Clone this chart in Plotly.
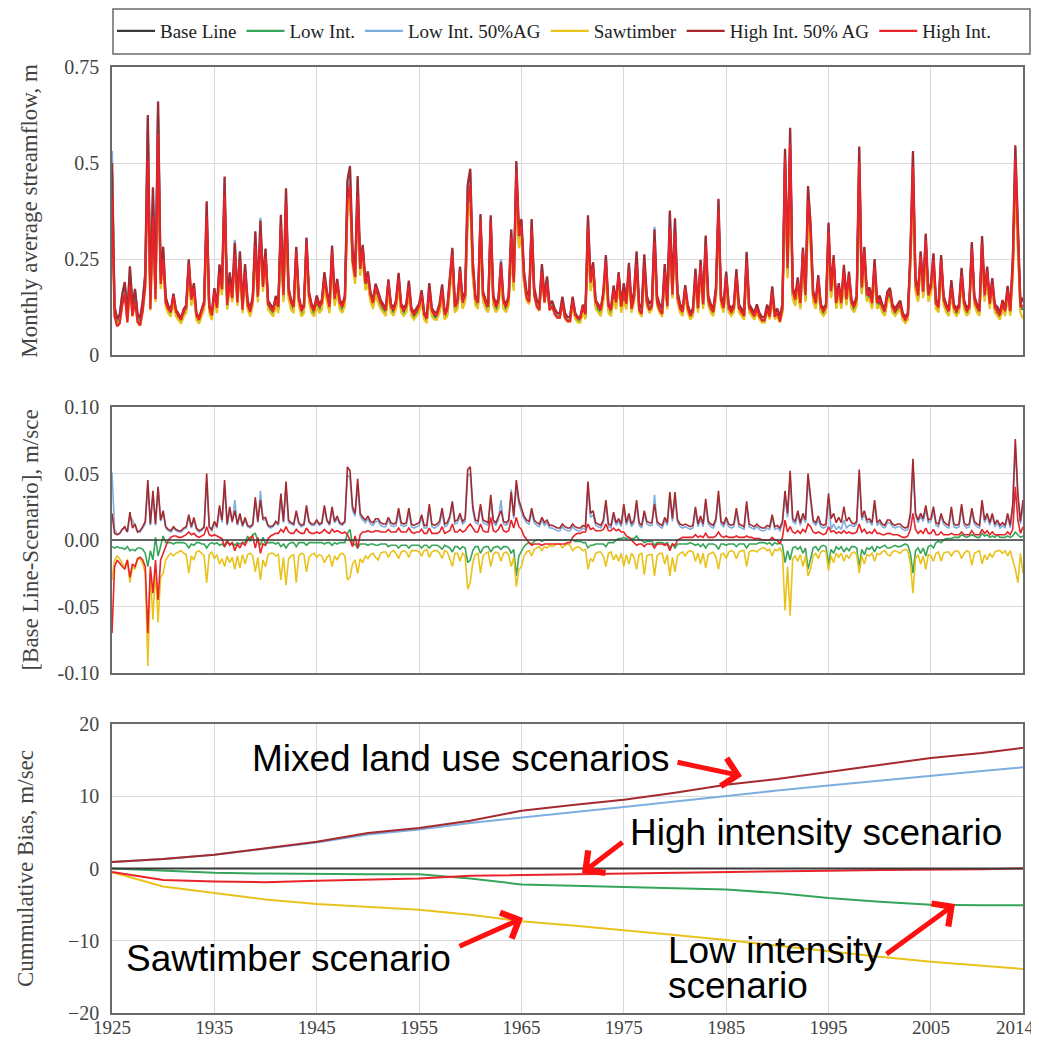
import plotly.graph_objects as go
from plotly.subplots import make_subplots

# ---------------- DATA (quarterly samples, 1925.00 ... 2014.00) ----------------
start_year = 1925
step = 0.25

# Monthly average streamflow, Base Line (m)
base_flow = [
    0.48, 0.12, 0.09, 0.10, 0.15, 0.18, 0.10, 0.21,
    0.12, 0.16, 0.10, 0.09, 0.13, 0.20, 0.58, 0.14,
    0.40, 0.16, 0.62, 0.20, 0.26, 0.14, 0.12, 0.11,
    0.15, 0.11, 0.10, 0.09, 0.11, 0.12, 0.23, 0.14,
    0.17, 0.10, 0.09, 0.11, 0.13, 0.35, 0.12, 0.10,
    0.16, 0.12, 0.21, 0.17, 0.42, 0.13, 0.19, 0.15,
    0.27, 0.14, 0.25, 0.12, 0.22, 0.13, 0.11, 0.14,
    0.29, 0.15, 0.32, 0.18, 0.26, 0.13, 0.12, 0.11,
    0.14, 0.12, 0.33, 0.15, 0.39, 0.16, 0.13, 0.12,
    0.26, 0.14, 0.11, 0.12, 0.28, 0.15, 0.12, 0.11,
    0.14, 0.12, 0.13, 0.19, 0.15, 0.12, 0.26, 0.14,
    0.18, 0.13, 0.12, 0.14, 0.40, 0.44, 0.25, 0.20,
    0.42, 0.22, 0.27, 0.18, 0.20, 0.15, 0.13, 0.17,
    0.15, 0.13, 0.12, 0.11, 0.18, 0.12, 0.11, 0.13,
    0.19, 0.12, 0.11, 0.12, 0.17, 0.11, 0.10, 0.11,
    0.12, 0.15, 0.10, 0.09, 0.16, 0.11, 0.10, 0.10,
    0.12, 0.16, 0.10, 0.11, 0.18, 0.25, 0.12, 0.13,
    0.21, 0.13, 0.15, 0.39, 0.43, 0.22, 0.14, 0.13,
    0.34, 0.15, 0.13, 0.12, 0.33, 0.14, 0.12, 0.13,
    0.22, 0.13, 0.12, 0.14, 0.29, 0.18, 0.46, 0.30,
    0.33, 0.20, 0.15, 0.14, 0.33, 0.16, 0.13, 0.12,
    0.22, 0.14, 0.19, 0.12, 0.13, 0.11, 0.10, 0.10,
    0.14, 0.10, 0.09, 0.09, 0.14, 0.10, 0.09, 0.09,
    0.12, 0.10, 0.32, 0.18, 0.22, 0.13, 0.12, 0.11,
    0.15, 0.23, 0.12, 0.11, 0.16, 0.13, 0.20, 0.12,
    0.16, 0.13, 0.22, 0.12, 0.15, 0.24, 0.12, 0.11,
    0.24, 0.14, 0.12, 0.13, 0.30, 0.14, 0.12, 0.11,
    0.22, 0.13, 0.34, 0.16, 0.32, 0.15, 0.12, 0.11,
    0.17, 0.12, 0.10, 0.11, 0.20, 0.12, 0.23, 0.13,
    0.28, 0.14, 0.12, 0.11, 0.16, 0.37, 0.14, 0.12,
    0.20, 0.12, 0.11, 0.12, 0.20, 0.12, 0.11, 0.10,
    0.24, 0.12, 0.11, 0.10, 0.12, 0.10, 0.09, 0.09,
    0.12, 0.10, 0.16, 0.10, 0.11, 0.09, 0.12, 0.50,
    0.22, 0.54, 0.16, 0.14, 0.18, 0.13, 0.26, 0.15,
    0.39, 0.31, 0.15, 0.13, 0.19, 0.12, 0.11, 0.12,
    0.31, 0.16, 0.24, 0.13, 0.17, 0.13, 0.21, 0.14,
    0.20, 0.13, 0.12, 0.14, 0.49, 0.17, 0.26, 0.15,
    0.16, 0.13, 0.22, 0.13, 0.14, 0.12, 0.11, 0.15,
    0.16, 0.12, 0.11, 0.12, 0.13, 0.10, 0.09, 0.10,
    0.25, 0.47, 0.18, 0.15, 0.25, 0.16, 0.29, 0.15,
    0.17, 0.24, 0.13, 0.12, 0.24, 0.14, 0.12, 0.11,
    0.17, 0.12, 0.11, 0.12, 0.20, 0.13, 0.11, 0.12,
    0.27, 0.14, 0.12, 0.11, 0.28, 0.15, 0.21, 0.13,
    0.18, 0.12, 0.11, 0.10, 0.13, 0.11, 0.16, 0.11,
    0.22, 0.47, 0.30, 0.12, 0.12,
]

# Differences between scenario and Base Line (panel 2)
diff_low_int = [
    -0.005, -0.006, -0.005, -0.006, -0.006, -0.007, -0.005, -0.008,
    -0.007, -0.008, -0.006, -0.006, -0.007, -0.010, -0.020, -0.008,
    -0.015, 0.002, -0.012, -0.004, 0.003, -0.002, -0.002, -0.002,
    -0.003, -0.002, -0.002, -0.002, -0.002, -0.003, -0.006, -0.003,
    -0.004, -0.002, -0.002, -0.003, -0.003, -0.006, -0.003, -0.002,
    -0.003, -0.002, -0.004, -0.003, -0.005, -0.002, -0.003, -0.002,
    -0.004, -0.002, -0.003, -0.002, -0.002, 0.003, -0.001, 0.004,
    0.005, -0.001, -0.004, 0.002, -0.003, -0.002, -0.002, -0.002,
    -0.003, -0.002, -0.005, -0.003, -0.006, -0.003, -0.002, -0.002,
    -0.005, -0.002, -0.002, -0.002, -0.004, -0.002, -0.002, -0.002,
    -0.002, -0.002, -0.002, -0.003, -0.002, -0.002, -0.004, -0.002,
    -0.003, -0.002, -0.002, -0.002, 0.005, 0.008, -0.004, -0.003,
    -0.006, -0.003, -0.003, -0.003, -0.004, -0.003, -0.003, -0.004,
    -0.004, -0.003, -0.003, -0.003, -0.005, -0.004, -0.004, -0.004,
    -0.006, -0.004, -0.004, -0.004, -0.006, -0.004, -0.004, -0.004,
    -0.004, -0.006, -0.004, -0.004, -0.006, -0.004, -0.004, -0.004,
    -0.005, -0.007, -0.004, -0.005, -0.006, -0.009, -0.005, -0.005,
    -0.007, -0.005, -0.006, -0.017, -0.015, -0.008, -0.005, -0.005,
    -0.010, -0.006, -0.005, -0.005, -0.009, -0.006, -0.005, -0.005,
    -0.007, -0.005, -0.005, -0.006, -0.010, -0.007, -0.027, -0.012,
    -0.008, -0.005, -0.003, -0.002, -0.003, -0.001, 0.000, 0.000,
    -0.001, 0.000, 0.000, 0.000, 0.000, 0.000, 0.000, 0.000,
    0.000, 0.000, 0.000, 0.000, 0.000, -0.001, -0.001, -0.001,
    -0.002, -0.002, -0.006, -0.004, -0.004, -0.003, -0.003, -0.003,
    -0.003, -0.005, -0.002, -0.002, -0.002, 0.000, 0.001, 0.001,
    0.002, 0.001, 0.002, 0.001, 0.001, 0.003, 0.000, 0.000,
    -0.002, -0.001, -0.001, -0.001, -0.004, -0.002, -0.002, -0.002,
    -0.003, -0.002, -0.006, -0.003, -0.006, -0.003, -0.003, -0.003,
    -0.003, -0.003, -0.002, -0.003, -0.004, -0.003, -0.005, -0.003,
    -0.006, -0.003, -0.003, -0.003, -0.004, -0.007, -0.003, -0.003,
    -0.004, -0.003, -0.003, -0.003, -0.005, -0.003, -0.003, -0.003,
    -0.006, -0.003, -0.003, -0.003, -0.003, -0.002, -0.002, -0.002,
    -0.003, -0.002, -0.004, -0.002, -0.003, -0.002, -0.004, -0.017,
    -0.008, -0.015, -0.006, -0.005, -0.007, -0.005, -0.010, -0.006,
    -0.022, -0.014, -0.006, -0.005, -0.008, -0.005, -0.004, -0.005,
    -0.018, -0.007, -0.010, -0.005, -0.007, -0.005, -0.009, -0.006,
    -0.008, -0.005, -0.005, -0.006, -0.020, -0.007, -0.011, -0.006,
    -0.007, -0.005, -0.009, -0.005, -0.006, -0.005, -0.004, -0.006,
    -0.006, -0.005, -0.004, -0.005, -0.005, -0.004, -0.003, -0.004,
    -0.010, -0.025, -0.008, -0.006, -0.010, -0.006, -0.012, -0.005,
    -0.004, -0.006, -0.002, -0.001, -0.002, 0.000, 0.001, 0.001,
    0.001, 0.002, 0.002, 0.002, 0.004, 0.003, 0.002, 0.003,
    0.004, 0.003, 0.002, 0.002, 0.005, 0.003, 0.004, 0.002,
    0.003, 0.002, 0.004, 0.002, 0.002, 0.002, 0.003, 0.002,
    0.003, 0.006, 0.004, 0.002, 0.003,
]

diff_low_int_50ag = [
    0.051, 0.008, 0.004, 0.005, 0.008, 0.009, 0.006, 0.018,
    0.015, 0.010, 0.006, 0.006, 0.009, 0.012, 0.040, 0.011,
    0.034, 0.011, 0.040, 0.014, 0.020, 0.009, 0.007, 0.006,
    0.009, 0.007, 0.006, 0.006, 0.008, 0.009, 0.017, 0.009,
    0.015, 0.008, 0.006, 0.007, 0.009, 0.044, 0.009, 0.007,
    0.013, 0.009, 0.023, 0.013, 0.040, 0.011, 0.022, 0.013,
    0.030, 0.011, 0.018, 0.010, 0.015, 0.010, 0.009, 0.011,
    0.029, 0.013, 0.037, 0.015, 0.015, 0.010, 0.009, 0.010,
    0.013, 0.011, 0.031, 0.013, 0.039, 0.013, 0.012, 0.011,
    0.020, 0.012, 0.010, 0.011, 0.023, 0.013, 0.011, 0.011,
    0.014, 0.011, 0.012, 0.023, 0.014, 0.011, 0.022, 0.013,
    0.016, 0.012, 0.011, 0.013, 0.049, 0.047, 0.022, 0.018,
    0.041, 0.018, 0.015, 0.013, 0.016, 0.012, 0.011, 0.014,
    0.014, 0.011, 0.010, 0.010, 0.015, 0.011, 0.010, 0.011,
    0.021, 0.011, 0.010, 0.011, 0.021, 0.010, 0.009, 0.010,
    0.011, 0.017, 0.009, 0.009, 0.024, 0.010, 0.009, 0.010,
    0.012, 0.021, 0.010, 0.011, 0.016, 0.026, 0.012, 0.013,
    0.018, 0.012, 0.014, 0.048, 0.050, 0.022, 0.013, 0.012,
    0.024, 0.013, 0.012, 0.011, 0.030, 0.013, 0.011, 0.015,
    0.030, 0.012, 0.011, 0.013, 0.038, 0.016, 0.040, 0.027,
    0.021, 0.016, 0.013, 0.012, 0.021, 0.013, 0.011, 0.010,
    0.015, 0.011, 0.013, 0.009, 0.009, 0.008, 0.007, 0.007,
    0.010, 0.008, 0.007, 0.007, 0.010, 0.008, 0.007, 0.007,
    0.009, 0.008, 0.039, 0.017, 0.019, 0.011, 0.010, 0.009,
    0.013, 0.027, 0.010, 0.009, 0.018, 0.011, 0.014, 0.010,
    0.024, 0.011, 0.017, 0.010, 0.013, 0.026, 0.011, 0.009,
    0.020, 0.012, 0.011, 0.011, 0.034, 0.012, 0.010, 0.009,
    0.015, 0.011, 0.033, 0.014, 0.032, 0.013, 0.010, 0.009,
    0.010, 0.009, 0.008, 0.009, 0.022, 0.010, 0.016, 0.010,
    0.027, 0.012, 0.010, 0.009, 0.014, 0.033, 0.012, 0.010,
    0.015, 0.010, 0.009, 0.010, 0.021, 0.010, 0.009, 0.008,
    0.026, 0.010, 0.009, 0.008, 0.010, 0.008, 0.007, 0.007,
    0.009, 0.008, 0.017, 0.008, 0.009, 0.007, 0.012, 0.033,
    0.017, 0.047, 0.014, 0.012, 0.019, 0.011, 0.018, 0.013,
    0.045, 0.029, 0.013, 0.011, 0.015, 0.010, 0.009, 0.010,
    0.031, 0.008, 0.012, 0.008, 0.010, 0.008, 0.015, 0.009,
    0.011, 0.011, 0.010, 0.012, 0.048, 0.015, 0.019, 0.013,
    0.014, 0.011, 0.027, 0.011, 0.013, 0.010, 0.009, 0.013,
    0.013, 0.010, 0.009, 0.010, 0.010, 0.008, 0.007, 0.008,
    0.018, 0.055, 0.018, 0.013, 0.018, 0.014, 0.023, 0.013,
    0.014, 0.022, 0.011, 0.010, 0.018, 0.012, 0.010, 0.009,
    0.022, 0.010, 0.009, 0.010, 0.024, 0.011, 0.009, 0.010,
    0.021, 0.012, 0.010, 0.009, 0.027, 0.013, 0.018, 0.011,
    0.018, 0.010, 0.013, 0.009, 0.011, 0.009, 0.018, 0.009,
    0.024, 0.070, 0.031, 0.012, 0.026,
]

diff_sawtimber = [
    -0.030, -0.015, -0.012, -0.014, -0.018, -0.020, -0.015, -0.032,
    -0.020, -0.022, -0.015, -0.014, -0.018, -0.025, -0.095, -0.025,
    -0.060, -0.022, -0.062, -0.028, -0.025, -0.015, -0.012, -0.010,
    -0.012, -0.010, -0.009, -0.008, -0.010, -0.011, -0.025, -0.012,
    -0.015, -0.009, -0.008, -0.010, -0.012, -0.032, -0.011, -0.009,
    -0.014, -0.011, -0.018, -0.014, -0.020, -0.012, -0.017, -0.013,
    -0.022, -0.012, -0.021, -0.011, -0.018, -0.011, -0.010, -0.012,
    -0.024, -0.013, -0.030, -0.015, -0.020, -0.011, -0.010, -0.010,
    -0.012, -0.011, -0.030, -0.013, -0.034, -0.014, -0.012, -0.011,
    -0.032, -0.012, -0.010, -0.011, -0.024, -0.013, -0.011, -0.010,
    -0.013, -0.011, -0.012, -0.017, -0.013, -0.011, -0.020, -0.012,
    -0.015, -0.011, -0.010, -0.012, -0.030, -0.028, -0.018, -0.015,
    -0.025, -0.014, -0.017, -0.012, -0.014, -0.011, -0.010, -0.013,
    -0.015, -0.010, -0.009, -0.009, -0.013, -0.009, -0.008, -0.010,
    -0.014, -0.009, -0.008, -0.009, -0.013, -0.008, -0.008, -0.008,
    -0.009, -0.012, -0.008, -0.007, -0.013, -0.009, -0.008, -0.008,
    -0.010, -0.014, -0.008, -0.009, -0.014, -0.020, -0.010, -0.010,
    -0.016, -0.010, -0.012, -0.037, -0.032, -0.017, -0.011, -0.010,
    -0.025, -0.012, -0.010, -0.009, -0.020, -0.011, -0.009, -0.010,
    -0.016, -0.010, -0.009, -0.011, -0.020, -0.013, -0.035, -0.022,
    -0.020, -0.012, -0.009, -0.008, -0.012, -0.007, -0.006, -0.005,
    -0.008, -0.005, -0.006, -0.004, -0.005, -0.004, -0.003, -0.003,
    -0.006, -0.004, -0.003, -0.004, -0.008, -0.006, -0.005, -0.006,
    -0.008, -0.007, -0.022, -0.014, -0.016, -0.010, -0.009, -0.009,
    -0.012, -0.020, -0.010, -0.009, -0.015, -0.011, -0.016, -0.010,
    -0.020, -0.011, -0.018, -0.010, -0.013, -0.022, -0.011, -0.010,
    -0.026, -0.012, -0.011, -0.011, -0.027, -0.012, -0.010, -0.010,
    -0.018, -0.011, -0.027, -0.013, -0.024, -0.012, -0.010, -0.009,
    -0.012, -0.009, -0.008, -0.009, -0.016, -0.010, -0.018, -0.010,
    -0.021, -0.011, -0.010, -0.009, -0.013, -0.022, -0.011, -0.010,
    -0.014, -0.009, -0.008, -0.009, -0.014, -0.009, -0.008, -0.008,
    -0.020, -0.009, -0.008, -0.008, -0.009, -0.007, -0.006, -0.006,
    -0.008, -0.007, -0.012, -0.007, -0.008, -0.006, -0.010, -0.053,
    -0.020, -0.057, -0.014, -0.012, -0.016, -0.011, -0.020, -0.012,
    -0.027, -0.022, -0.012, -0.010, -0.014, -0.009, -0.008, -0.009,
    -0.023, -0.012, -0.017, -0.010, -0.013, -0.010, -0.016, -0.011,
    -0.014, -0.010, -0.009, -0.011, -0.025, -0.012, -0.018, -0.011,
    -0.012, -0.010, -0.016, -0.010, -0.011, -0.009, -0.008, -0.011,
    -0.012, -0.009, -0.008, -0.009, -0.010, -0.008, -0.007, -0.008,
    -0.018, -0.040, -0.014, -0.011, -0.018, -0.012, -0.022, -0.011,
    -0.012, -0.016, -0.010, -0.009, -0.016, -0.010, -0.009, -0.009,
    -0.012, -0.009, -0.008, -0.009, -0.014, -0.010, -0.008, -0.009,
    -0.019, -0.010, -0.009, -0.008, -0.018, -0.011, -0.015, -0.010,
    -0.013, -0.009, -0.008, -0.008, -0.010, -0.008, -0.012, -0.008,
    -0.015, -0.022, -0.032, -0.010, -0.025,
]

diff_high_int_50ag = [
    0.020, 0.005, 0.004, 0.005, 0.008, 0.010, 0.006, 0.021,
    0.009, 0.012, 0.006, 0.007, 0.010, 0.014, 0.045, 0.012,
    0.037, 0.012, 0.040, 0.015, 0.022, 0.010, 0.008, 0.007,
    0.010, 0.008, 0.007, 0.007, 0.009, 0.010, 0.019, 0.010,
    0.017, 0.009, 0.007, 0.008, 0.010, 0.050, 0.010, 0.008,
    0.014, 0.010, 0.026, 0.015, 0.045, 0.012, 0.025, 0.014,
    0.022, 0.012, 0.020, 0.011, 0.017, 0.011, 0.010, 0.012,
    0.032, 0.014, 0.030, 0.016, 0.017, 0.011, 0.010, 0.011,
    0.014, 0.012, 0.035, 0.014, 0.044, 0.015, 0.013, 0.012,
    0.022, 0.013, 0.011, 0.012, 0.026, 0.014, 0.012, 0.012,
    0.015, 0.012, 0.013, 0.026, 0.015, 0.012, 0.025, 0.014,
    0.018, 0.013, 0.012, 0.014, 0.055, 0.052, 0.025, 0.020,
    0.046, 0.020, 0.017, 0.015, 0.018, 0.014, 0.013, 0.016,
    0.016, 0.013, 0.012, 0.012, 0.017, 0.013, 0.012, 0.013,
    0.024, 0.013, 0.012, 0.013, 0.024, 0.012, 0.011, 0.012,
    0.013, 0.019, 0.011, 0.011, 0.027, 0.012, 0.011, 0.012,
    0.014, 0.024, 0.012, 0.013, 0.018, 0.029, 0.014, 0.015,
    0.020, 0.014, 0.016, 0.053, 0.055, 0.025, 0.015, 0.014,
    0.027, 0.015, 0.014, 0.013, 0.034, 0.015, 0.013, 0.017,
    0.022, 0.014, 0.013, 0.015, 0.036, 0.018, 0.045, 0.030,
    0.024, 0.018, 0.015, 0.014, 0.024, 0.015, 0.013, 0.012,
    0.017, 0.013, 0.015, 0.011, 0.011, 0.010, 0.009, 0.009,
    0.012, 0.010, 0.009, 0.009, 0.012, 0.010, 0.009, 0.009,
    0.011, 0.010, 0.044, 0.020, 0.022, 0.013, 0.012, 0.011,
    0.015, 0.030, 0.012, 0.011, 0.021, 0.013, 0.016, 0.012,
    0.027, 0.013, 0.020, 0.012, 0.015, 0.030, 0.013, 0.011,
    0.022, 0.014, 0.013, 0.013, 0.027, 0.014, 0.012, 0.011,
    0.017, 0.013, 0.036, 0.016, 0.036, 0.015, 0.012, 0.011,
    0.012, 0.011, 0.010, 0.011, 0.025, 0.012, 0.018, 0.012,
    0.031, 0.014, 0.012, 0.011, 0.016, 0.037, 0.014, 0.012,
    0.017, 0.012, 0.011, 0.012, 0.024, 0.012, 0.011, 0.010,
    0.029, 0.012, 0.011, 0.010, 0.012, 0.010, 0.009, 0.009,
    0.011, 0.010, 0.019, 0.010, 0.011, 0.009, 0.014, 0.037,
    0.020, 0.052, 0.016, 0.014, 0.022, 0.013, 0.020, 0.015,
    0.050, 0.032, 0.015, 0.013, 0.018, 0.012, 0.011, 0.012,
    0.035, 0.016, 0.020, 0.013, 0.017, 0.013, 0.025, 0.014,
    0.017, 0.013, 0.012, 0.014, 0.053, 0.017, 0.022, 0.015,
    0.016, 0.013, 0.030, 0.013, 0.015, 0.012, 0.011, 0.015,
    0.015, 0.012, 0.011, 0.012, 0.012, 0.010, 0.009, 0.010,
    0.020, 0.061, 0.020, 0.015, 0.020, 0.016, 0.026, 0.015,
    0.016, 0.025, 0.013, 0.012, 0.020, 0.014, 0.012, 0.011,
    0.025, 0.012, 0.011, 0.012, 0.027, 0.013, 0.011, 0.012,
    0.024, 0.014, 0.012, 0.011, 0.030, 0.015, 0.020, 0.013,
    0.020, 0.012, 0.015, 0.011, 0.013, 0.011, 0.020, 0.011,
    0.027, 0.076, 0.035, 0.014, 0.030,
]

diff_high_int = [
    -0.070, -0.020, -0.015, -0.018, -0.020, -0.022, -0.015, -0.028,
    -0.018, -0.020, -0.014, -0.013, -0.015, -0.020, -0.070, -0.020,
    -0.040, -0.015, -0.045, -0.015, -0.010, -0.004, 0.000, 0.002,
    0.003, 0.003, 0.002, 0.002, 0.003, 0.004, 0.006, 0.004,
    0.005, 0.003, 0.002, 0.003, 0.004, 0.010, 0.004, 0.003,
    0.004, 0.003, 0.002, 0.001, -0.005, 0.000, -0.004, -0.002,
    -0.008, -0.003, -0.006, -0.002, -0.004, 0.000, 0.002, 0.003,
    -0.006, 0.002, -0.010, -0.003, -0.004, 0.001, 0.003, 0.004,
    0.005, 0.005, 0.008, 0.006, 0.010, 0.006, 0.005, 0.005,
    0.008, 0.006, 0.005, 0.005, 0.009, 0.006, 0.005, 0.005,
    0.006, 0.005, 0.006, 0.008, 0.006, 0.005, 0.008, 0.006,
    0.007, 0.006, 0.005, 0.006, 0.004, 0.000, -0.005, 0.003,
    -0.006, 0.004, 0.006, 0.006, 0.007, 0.006, 0.006, 0.007,
    0.007, 0.006, 0.006, 0.006, 0.008, 0.006, 0.006, 0.006,
    0.009, 0.006, 0.006, 0.006, 0.009, 0.006, 0.005, 0.006,
    0.006, 0.008, 0.005, 0.005, 0.009, 0.005, 0.005, 0.005,
    0.006, 0.010, 0.005, 0.006, 0.007, 0.012, 0.006, 0.006,
    0.008, 0.006, 0.007, 0.010, 0.012, 0.009, 0.006, 0.006,
    0.012, 0.007, 0.006, 0.006, 0.017, 0.007, 0.006, 0.008,
    0.012, 0.007, 0.006, 0.007, 0.015, 0.009, 0.017, 0.010,
    0.008, 0.003, 0.000, -0.002, -0.004, -0.003, -0.003, -0.003,
    -0.004, -0.003, -0.003, -0.003, -0.003, -0.003, -0.003, -0.003,
    -0.003, -0.003, -0.002, -0.002, 0.002, 0.004, 0.005, 0.005,
    0.006, 0.006, 0.012, 0.008, 0.009, 0.007, 0.007, 0.007,
    0.008, 0.012, 0.007, 0.007, 0.009, 0.007, 0.008, 0.006,
    0.006, 0.003, 0.002, 0.000, -0.002, -0.004, -0.003, -0.003,
    -0.005, -0.003, -0.003, -0.003, -0.006, -0.003, -0.003, -0.003,
    -0.004, -0.003, -0.008, -0.003, -0.004, 0.000, 0.001, 0.002,
    0.002, 0.002, 0.002, 0.002, 0.004, 0.002, 0.003, 0.002,
    0.005, 0.002, 0.002, 0.002, 0.003, 0.006, 0.003, 0.002,
    0.003, 0.002, 0.002, 0.002, 0.003, 0.002, 0.002, 0.002,
    0.003, 0.002, 0.002, 0.001, 0.001, 0.001, 0.000, 0.000,
    0.000, 0.000, 0.002, 0.000, 0.000, -0.003, 0.002, 0.015,
    0.006, 0.010, 0.006, 0.005, 0.007, 0.005, 0.008, 0.006,
    0.012, 0.010, 0.006, 0.005, 0.006, 0.005, 0.004, 0.005,
    0.010, 0.006, 0.007, 0.005, 0.006, 0.005, 0.007, 0.005,
    0.006, 0.005, 0.005, 0.006, 0.012, 0.006, 0.008, 0.005,
    0.006, 0.005, 0.008, 0.005, 0.005, 0.004, 0.004, 0.005,
    0.005, 0.004, 0.004, 0.004, 0.003, 0.002, 0.002, 0.003,
    0.008, 0.020, 0.008, 0.005, 0.007, 0.005, 0.009, 0.005,
    0.005, 0.008, 0.004, 0.004, 0.006, 0.004, 0.004, 0.004,
    0.005, 0.004, 0.004, 0.004, 0.006, 0.004, 0.004, 0.004,
    0.007, 0.004, 0.004, 0.004, 0.008, 0.005, 0.007, 0.004,
    0.006, 0.004, 0.004, 0.004, 0.004, 0.004, 0.006, 0.004,
    0.008, 0.040, 0.015, 0.005, 0.010,
]

# Cumulative bias (panel 3), read every 5 years
cum_years = [1925, 1930, 1935, 1940, 1945, 1950, 1955, 1960, 1965, 1970,
             1975, 1980, 1985, 1990, 1995, 2000, 2005, 2010, 2014]
cum_base = [0.0] * len(cum_years)
cum_low_int = [0.0, -0.3, -0.6, -0.7, -0.8, -0.8, -0.8, -1.4, -2.2, -2.4,
               -2.5, -2.7, -2.9, -3.4, -4.1, -4.6, -5.0, -5.1, -5.1]
cum_low_int_50ag = [0.9, 1.3, 1.9, 2.7, 3.6, 4.7, 5.4, 6.3, 7.1, 7.8,
                    8.5, 9.3, 10.1, 10.8, 11.5, 12.2, 12.9, 13.5, 14.0]
cum_sawtimber = [-0.5, -2.5, -3.4, -4.3, -4.9, -5.3, -5.7, -6.4, -7.3, -7.9,
                 -8.5, -9.2, -9.9, -10.7, -11.5, -12.2, -12.9, -13.5, -13.9]
cum_high_int_50ag = [0.9, 1.3, 1.9, 2.8, 3.7, 4.9, 5.6, 6.6, 8.0, 8.8,
                     9.5, 10.5, 11.6, 12.4, 13.4, 14.4, 15.3, 16.0, 16.7]
cum_high_int = [-0.5, -1.6, -1.8, -1.9, -1.7, -1.6, -1.4, -1.0, -0.9, -0.8,
                -0.6, -0.5, -0.5, -0.4, -0.3, -0.2, -0.2, -0.1, 0.0]

x_tick_vals = [1925, 1935, 1945, 1955, 1965, 1975, 1985, 1995, 2005, 2014]
x_tick_text = ["1925", "1935", "1945", "1955", "1965", "1975", "1985",
               "1995", "2005", ""]
x_last_label = "2014"
y1_ticks = [0, 0.25, 0.5, 0.75]
y1_labels = ["0", "0.25", "0.5", "0.75"]
y2_ticks = [-0.10, -0.05, 0.0, 0.05, 0.10]
y2_labels = ["-0.10", "-0.05", "0.00", "0.05", "0.10"]
y3_ticks = [-20, -10, 0, 10, 20]

series_names = ["Base Line", "Low Int.", "Low Int. 50%AG", "Sawtimber",
                "High Int. 50% AG", "High Int."]

# ---------------- FIGURE ----------------
n = len(base_flow)
t = [start_year + step * i for i in range(n)]

colors = {
    "Base Line": "#3a3a3a",
    "Low Int.": "#35a55a",
    "Low Int. 50%AG": "#7eaee0",
    "Sawtimber": "#e9c21c",
    "High Int. 50% AG": "#a52a2e",
    "High Int.": "#e8242a",
}

diffs = {
    "Base Line": [0.0] * n,
    "Low Int.": diff_low_int[:n],
    "Low Int. 50%AG": diff_low_int_50ag[:n],
    "Sawtimber": diff_sawtimber[:n],
    "High Int. 50% AG": diff_high_int_50ag[:n],
    "High Int.": diff_high_int[:n],
}
cums = {
    "Base Line": cum_base,
    "Low Int.": cum_low_int,
    "Low Int. 50%AG": cum_low_int_50ag,
    "Sawtimber": cum_sawtimber,
    "High Int. 50% AG": cum_high_int_50ag,
    "High Int.": cum_high_int,
}

fig = make_subplots(rows=3, cols=1, shared_xaxes=False)

# panel 1: scenario flows
for k, name in enumerate(series_names):
    flow = [b + d for b, d in zip(base_flow, diffs[name])]
    fig.add_trace(go.Scatter(
        x=t, y=flow, mode="lines", name=name, legendrank=k + 1,
        line=dict(color=colors[name], width=2.2),
        showlegend=True), row=1, col=1)

# panel 2 & 3: base line drawn last
order23 = ["Low Int.", "Low Int. 50%AG", "Sawtimber", "High Int. 50% AG",
           "High Int.", "Base Line"]
for name in order23:
    fig.add_trace(go.Scatter(
        x=t, y=diffs[name], mode="lines", name=name,
        line=dict(color=colors[name], width=1.6), showlegend=False),
        row=2, col=1)
for name in order23:
    fig.add_trace(go.Scatter(
        x=cum_years, y=cums[name], mode="lines", name=name,
        line=dict(color=colors[name], width=2), showlegend=False),
        row=3, col=1)

# page body has an 8 px margin: figure pixel = screen pixel - 8
W, H = 1031, 1033
L, R, T, B = 104, 16, 59, 28
plot_h = H - T - B
plot_w = W - L - R
OFF = 8


def py(p):  # screen pixel row -> paper y
    return (H - B - (p - OFF)) / plot_h


def px(p):  # screen pixel column -> paper x
    return (p - OFF - L) / plot_w


serif = "Liberation Serif, Times New Roman, serif"
tick_font = dict(family=serif, size=20, color="#444444")
xtick_font = dict(family=serif, size=19, color="#444444")
title_font = dict(family=serif, size=23, color="#444444")

axis_common = dict(showline=True, mirror=True, linecolor="#6a6a6a",
                   linewidth=1.5, showgrid=True, gridcolor="#d9d9d9",
                   gridwidth=1, zeroline=False, ticks="", ticklen=0)

fig.update_layout(
    width=W, height=H,
    margin=dict(l=L, r=R, t=T, b=B, autoexpand=False),
    paper_bgcolor="white", plot_bgcolor="white",
    xaxis=dict(domain=[0, 1], anchor="y", range=[1925, 2014],
               tickvals=x_tick_vals, showticklabels=False, **axis_common),
    xaxis2=dict(domain=[0, 1], anchor="y2", range=[1925, 2014],
                tickvals=x_tick_vals, showticklabels=False, **axis_common),
    xaxis3=dict(domain=[0, 1], anchor="y3", range=[1925, 2014],
                tickvals=x_tick_vals, ticktext=x_tick_text,
                tickfont=xtick_font,
                ticklabelstandoff=-4, ticklabeloverflow="allow",
                **axis_common),
    yaxis=dict(domain=[py(355), py(67)], range=[0, 0.75],
               tickvals=y1_ticks, ticktext=y1_labels, tickfont=tick_font,
               ticklabelstandoff=7,
               title=dict(text="Monthly average streamflow, m",
                          font=title_font, standoff=20),
               **axis_common),
    yaxis2=dict(domain=[py(673), py(407)], range=[-0.1, 0.1],
                tickvals=y2_ticks, ticktext=y2_labels, tickfont=tick_font,
                ticklabelstandoff=7,
                title=dict(text="[Base Line-Scenario], m/sce",
                           font=title_font, standoff=13),
                **axis_common),
    yaxis3=dict(domain=[0, py(724)], range=[-20, 20],
                tickvals=y3_ticks, tickfont=tick_font,
                ticklabelstandoff=7,
                title=dict(text="Cummulative Bias, m/sec",
                           font=title_font, standoff=28),
                **axis_common),
    legend=dict(orientation="h", x=px(112), y=py(31), xanchor="left",
                yanchor="middle", font=dict(family=serif, size=19,
                                            color="#222222"),
                bgcolor="rgba(0,0,0,0)", itemwidth=38, traceorder="normal"),
    showlegend=True,
)

# last x tick label, kept inside the page edge
fig.add_annotation(text=x_last_label, xref="paper", yref="paper",
                   x=px(1037), y=py(1027), xanchor="right", yanchor="middle",
                   showarrow=False, font=xtick_font)

# legend frame
fig.add_shape(type="rect", xref="paper", yref="paper",
              x0=px(113), x1=px(1030), y0=py(54), y1=py(9),
              line=dict(color="#6a6a6a", width=1.5), fillcolor="rgba(0,0,0,0)")

ann_font = dict(family="Liberation Sans, Arial, sans-serif", size=37,
                color="black")
texts = [
    ("Mixed land use scenarios", 250, 758),
    ("High intensity scenario", 628, 832),
    ("Sawtimber scenario", 124, 958),
    ("Low intensity", 666, 950),
    ("scenario", 666, 985),
]
for txt, xp, yp in texts:
    fig.add_annotation(text=txt, xref="paper", yref="paper", x=px(xp),
                       y=py(yp), xanchor="left", yanchor="middle",
                       showarrow=False, font=ann_font, align="left")

arrows = [  # head (x, y), tail offset (ax, ay) in pixels
    (742, 776, -66, -14),
    (582, 873, 42, -32),
    (523, 918, -65, 29),
    (955, 904, -70, 51),
]
for hx, hy, ax, ay in arrows:
    fig.add_annotation(text="", xref="paper", yref="paper", x=px(hx),
                       y=py(hy), ax=ax, ay=ay, showarrow=True,
                       arrowhead=4, arrowsize=1.1, arrowwidth=5,
                       arrowcolor="#ff1010")

fig.write_html("out.html")
